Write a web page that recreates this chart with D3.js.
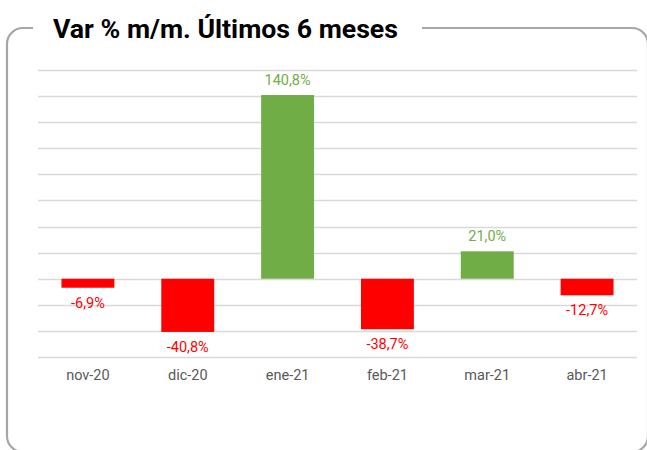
<!DOCTYPE html>
<html><head><meta charset="utf-8">
<script src="https://cdn.jsdelivr.net/npm/d3@7"></script>
<style>html,body{margin:0;padding:0;background:#fff;}svg{display:block;}</style>
</head><body>
<svg id="chart" width="647" height="450"></svg>
<script>
const categories = ["nov-20","dic-20","ene-21","feb-21","mar-21","abr-21"];
const values = [-6.9,-40.8,140.8,-38.7,21.0,-12.7];
const labels = ["-6,9%","-40,8%","140,8%","-38,7%","21,0%","-12,7%"];
const gridTicks = [-60,-40,-20,0,20,40,60,80,100,120,140,160];
const title = "Var % m/m. Últimos 6 meses";

const svg = d3.select("#chart");
const font = "Roboto, 'Liberation Sans', Arial, sans-serif";

// frame with gap for title
const fx0 = 7, fy0 = 28, fx1 = 648, fy1 = 452, r = 16;
const gapL = 33, gapR = 422;
const p = d3.path();
p.moveTo(gapR, fy0);
p.lineTo(fx1 - r, fy0);
p.arcTo(fx1, fy0, fx1, fy0 + r, r);
p.lineTo(fx1, fy1 - r);
p.arcTo(fx1, fy1, fx1 - r, fy1, r);
p.lineTo(fx0 + r, fy1);
p.arcTo(fx0, fy1, fx0, fy1 - r, r);
p.lineTo(fx0, fy0 + r);
p.arcTo(fx0, fy0, fx0 + r, fy0, r);
p.lineTo(gapL, fy0);
svg.append("path").attr("d", p.toString()).attr("fill","none")
  .attr("stroke","#a6a6a6").attr("stroke-width",2.2);

const t = svg.append("text").attr("x", 53).attr("y", 38)
  .attr("font-family", font).attr("font-weight","bold").attr("font-size", 26)
  .attr("fill","#000").text(title);
if (t.node().getComputedTextLength() > 0) t.attr("textLength", 345).attr("lengthAdjust","spacingAndGlyphs");

const x = d3.scaleBand().domain(categories).range([38, 637]).paddingInner(0.47).paddingOuter(0.235);
const y = d3.scaleLinear().domain([-60,160]).range([357, 70]);

svg.append("g").selectAll("line").data(gridTicks).join("line")
  .attr("x1",38).attr("x2",637)
  .attr("y1",d=>Math.round(y(d))+0.5).attr("y2",d=>Math.round(y(d))+0.5)
  .attr("stroke","#d9d9d9").attr("stroke-width",1.3);

const green = "#70ad47", red = "#ff0000";
svg.append("g").selectAll("rect").data(values).join("rect")
  .attr("x",(d,i)=>x(categories[i]))
  .attr("width",x.bandwidth())
  .attr("y",d=>y(Math.max(0,d)))
  .attr("height",d=>Math.abs(y(d)-y(0)))
  .attr("fill",d=>d>=0?green:red);

svg.append("g").selectAll("text").data(values).join("text")
  .attr("x",(d,i)=>x(categories[i])+x.bandwidth()/2)
  .attr("y",d=>d>=0 ? y(d)-10 : y(d)+20)
  .attr("text-anchor","middle")
  .attr("font-family",font).attr("font-size",14.5)
  .attr("fill",d=>d>=0?green:red)
  .text((d,i)=>labels[i]);

const xAxis = d3.axisBottom(x).tickSize(0).tickPadding(0);
const ax = svg.append("g").attr("transform","translate(0,370)").call(xAxis);
ax.select(".domain").remove();
ax.selectAll("text").attr("font-family",font).attr("font-size",14.5)
  .attr("fill","#595959").attr("dy","0.71em");
</script>
</body></html>
